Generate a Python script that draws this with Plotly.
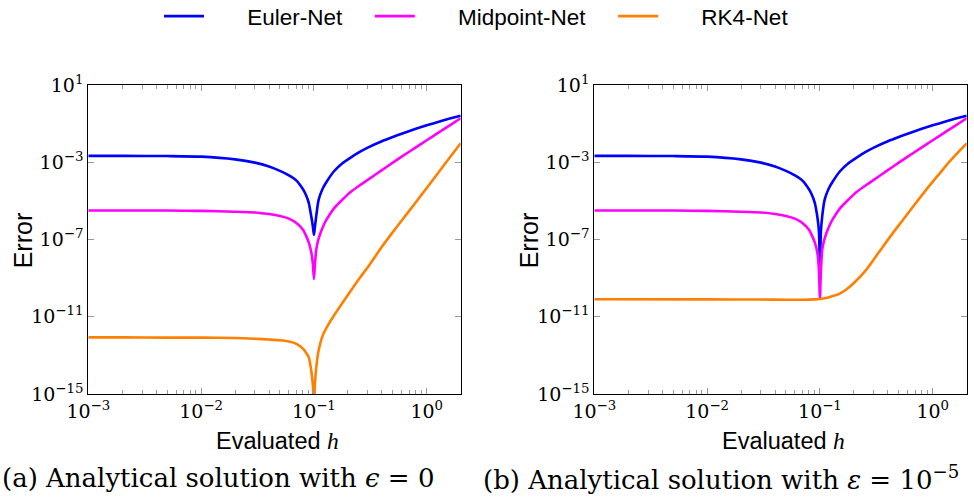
import numpy as np
import plotly.graph_objects as go

# Evaluated step sizes h
h_grid = [0.001, 0.002, 0.005, 0.01, 0.02, 0.03, 0.04, 0.05, 0.06, 0.07, 0.08, 0.085,
          0.09, 0.095, 0.098, 0.1, 0.102, 0.105, 0.11, 0.12, 0.13, 0.15, 0.18, 0.21,
          0.25, 0.3, 0.4, 0.5, 0.6, 0.8, 1.0, 1.3, 1.6, 2.0]

# log10(Error)
euler_a_log = [-2.67, -2.67, -2.68, -2.71, -2.85, -3.02, -3.22, -3.45, -3.68, -3.95, -4.4, -4.7,
               -5.1, -5.85, -6.35, -6.76, -6.35, -5.75, -4.95, -4.35, -4.0, -3.48, -3.04, -2.77,
               -2.49, -2.24, -1.91, -1.69, -1.52, -1.27, -1.09, -0.89, -0.74, -0.59]
mid_a_log = [-5.5, -5.5, -5.5, -5.52, -5.56, -5.6, -5.68, -5.78, -5.92, -6.15, -6.5, -6.8,
             -7.15, -7.7, -8.3, -9.05, -8.3, -7.5, -6.95, -6.35, -5.95, -5.4, -4.92, -4.55,
             -4.23, -3.91, -3.41, -3.02, -2.71, -2.23, -1.86, -1.43, -1.09, -0.72]
rk4_a_log = [-12.07, -12.07, -12.08, -12.08, -12.1, -12.14, -12.18, -12.22, -12.28, -12.4, -12.65, -12.85,
             -13.1, -13.85, -14.6, -16.0, -14.5, -13.6, -12.75, -11.95, -11.55, -10.95, -10.26, -9.69,
             -9.06, -8.44, -7.38, -6.62, -6.02, -5.07, -4.33, -3.45, -2.75, -2.02]

# log10(Error)
euler_b_log = [-2.67, -2.67, -2.68, -2.71, -2.85, -3.02, -3.22, -3.45, -3.68, -3.95, -4.4, -4.7,
               -5.1, -5.85, -6.6, -8.3, -6.6, -5.75, -4.95, -4.35, -4.0, -3.48, -3.04, -2.77,
               -2.49, -2.24, -1.91, -1.69, -1.52, -1.27, -1.09, -0.89, -0.74, -0.59]
mid_b_log = [-5.5, -5.5, -5.5, -5.52, -5.56, -5.6, -5.68, -5.78, -5.92, -6.15, -6.5, -6.8,
             -7.15, -7.7, -8.6, -10.05, -8.6, -7.5, -6.95, -6.35, -5.95, -5.4, -4.92, -4.55,
             -4.23, -3.91, -3.41, -3.02, -2.71, -2.23, -1.86, -1.43, -1.09, -0.72]
h_rk4_b = [0.001, 0.01, 0.03, 0.05, 0.07, 0.09, 0.1, 0.113, 0.13, 0.15, 0.17, 0.2, 0.257,
           0.3, 0.35, 0.442, 0.55, 0.7, 0.873, 1.1, 1.4, 1.7, 2.0]
rk4_b_log = [-10.09, -10.1, -10.11, -10.12, -10.12, -10.1, -10.08, -10.03, -9.93, -9.8, -9.6, -9.25, -8.57,
             -8.03, -7.49, -6.67, -5.95, -5.15, -4.43, -3.72, -2.98, -2.45, -2.02]

series_names = ["Euler-Net", "Midpoint-Net", "RK4-Net"]
colors = ["#0000FF", "#FF00FF", "#FF8000"]

# Tick labels
x_tickvals = [1e-3, 1e-2, 1e-1, 1e0]
x_ticktext = ["10<sup>−3</sup>", "10<sup>−2</sup>", "10<sup>−1</sup>", "10<sup>0</sup>"]
y_tickvals = [1e1, 1e-3, 1e-7, 1e-11, 1e-15]
y_ticktext = ["10<sup>1</sup>", "10<sup>−3</sup>", "10<sup>−7</sup>", "10<sup>−11</sup>", "10<sup>−15</sup>"]

captions = ["(a) Analytical solution with <i>ϵ</i> = 0",
            "(b) Analytical solution with <i>ε</i> = 10<sup>−5</sup>"]


def vals(logs):
    return [10.0 ** v for v in logs]


fig = go.Figure()
panel_a = [(h_grid, euler_a_log), (h_grid, mid_a_log), (h_grid, rk4_a_log)]
panel_b = [(h_grid, euler_b_log), (h_grid, mid_b_log), (h_rk4_b, rk4_b_log)]
lead = "\u2003\u2002\u2009"
trail = "\u2003"
for i, (hx, ly) in enumerate(panel_a):
    fig.add_trace(go.Scatter(x=hx, y=vals(ly), mode="lines", name=lead + series_names[i] + trail,
                             line=dict(color=colors[i], width=2.6, shape="spline", smoothing=0.6),
                             xaxis="x", yaxis="y", showlegend=True))
for i, (hx, ly) in enumerate(panel_b):
    fig.add_trace(go.Scatter(x=hx, y=vals(ly), mode="lines", name=series_names[i],
                             line=dict(color=colors[i], width=2.6, shape="spline", smoothing=0.6),
                             xaxis="x2", yaxis="y2", showlegend=False))

serif = "DejaVu Serif"
sans = "Liberation Sans"
W, H = 974, 502
x0a, x1a = 88.3, 460.7
x0b, x1b = 594.3, 966.7
ytop, ybot = 85.0, 394.0


def xax(domain, anchor):
    return dict(type="log", range=[-3, np.log10(2)], domain=domain, anchor=anchor,
                tickmode="array", tickvals=x_tickvals, ticktext=x_ticktext,
                showgrid=False, zeroline=False, automargin=False,
                showline=True, linecolor="black", linewidth=1.2, mirror="ticks",
                ticks="inside", ticklen=6, tickcolor="#999999", tickwidth=1,
                minor=dict(dtick="D1", ticks="inside", ticklen=3.5, tickcolor="#999999",
                           tickwidth=1, showgrid=False),
                tickfont=dict(family=serif, size=19, color="black"))


def yax(domain, anchor):
    return dict(type="log", range=[-15, 1], domain=domain, anchor=anchor,
                tickmode="array", tickvals=y_tickvals, ticktext=y_ticktext,
                showgrid=False, zeroline=False, automargin=False,
                showline=True, linecolor="black", linewidth=1.2, mirror="ticks",
                ticks="inside", ticklen=6, tickcolor="#999999", tickwidth=1,
                tickfont=dict(family=serif, size=19, color="black"))


ydom = [1 - ybot / H, 1 - ytop / H]
ann = []
for (xa, xb), cap, cx in [((x0a, x1a), captions[0], 218), ((x0b, x1b), captions[1], 721)]:
    ann.append(dict(text="Evaluated <span style='font-family:Liberation Serif'><i>h</i></span>",
                    x=(xa + xb + 6) / 2 / W, y=1 - 441 / H, xref="paper", yref="paper",
                    showarrow=False, xanchor="center", yanchor="middle",
                    font=dict(family=sans, size=23.5, color="black")))
    ann.append(dict(text="Error", x=(xa - 65) / W, y=1 - 240 / H, xref="paper", yref="paper",
                    showarrow=False, xanchor="center", yanchor="middle", textangle=-90,
                    font=dict(family=sans, size=25, color="black")))
    ann.append(dict(text=cap, x=cx / W, y=1 - 478 / H, xref="paper", yref="paper",
                    showarrow=False, xanchor="center", yanchor="middle",
                    font=dict(family=serif, size=26, color="black")))

fig.update_layout(
    width=W, height=H,
    margin=dict(l=0, r=0, t=0, b=0, autoexpand=False),
    plot_bgcolor="white", paper_bgcolor="white",
    xaxis=xax([x0a / W, x1a / W], "y"),
    yaxis=yax(ydom, "x"),
    xaxis2=xax([x0b / W, x1b / W], "y2"),
    yaxis2=yax(ydom, "x2"),
    legend=dict(orientation="h", x=159 / W, xanchor="left", y=1.01, yanchor="top",
                font=dict(family=sans, size=22.5, color="black"),
                itemwidth=40, bgcolor="rgba(0,0,0,0)"),
    annotations=ann,
)

fig.write_html("out.html")
